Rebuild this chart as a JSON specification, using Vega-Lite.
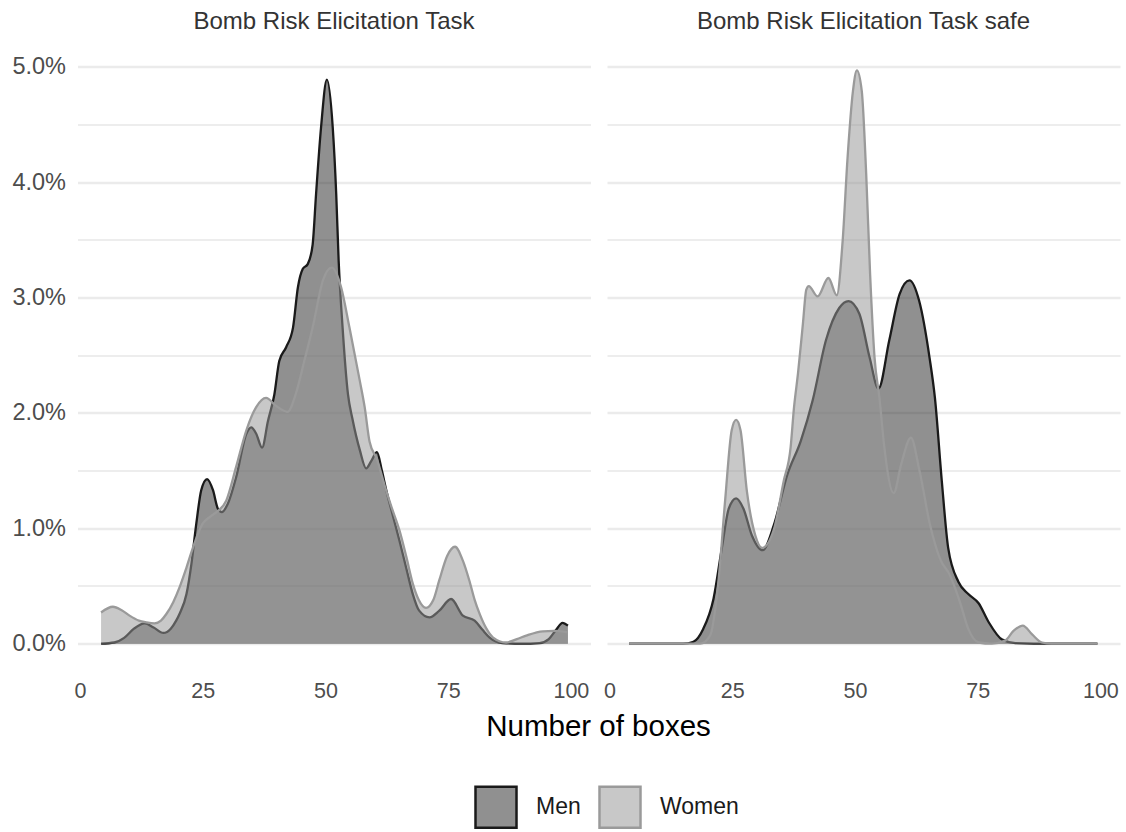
{
  "$schema": "https://vega.github.io/schema/vega-lite/v6.json",
  "background": "white",
  "padding": {"left": 11.5, "top": 9.5, "right": 3, "bottom": 2},
  "data": {"values": [
    {"task":"Bomb Risk Elicitation Task","gender":"Men","boxes":4.3,"density":0},
    {"task":"Bomb Risk Elicitation Task","gender":"Men","boxes":7,"density":0.0001},
    {"task":"Bomb Risk Elicitation Task","gender":"Men","boxes":9,"density":0.0005},
    {"task":"Bomb Risk Elicitation Task","gender":"Men","boxes":11,"density":0.0013},
    {"task":"Bomb Risk Elicitation Task","gender":"Men","boxes":13.2,"density":0.00176},
    {"task":"Bomb Risk Elicitation Task","gender":"Men","boxes":15,"density":0.0014},
    {"task":"Bomb Risk Elicitation Task","gender":"Men","boxes":17,"density":0.00093},
    {"task":"Bomb Risk Elicitation Task","gender":"Men","boxes":18.5,"density":0.0013},
    {"task":"Bomb Risk Elicitation Task","gender":"Men","boxes":19.6,"density":0.002},
    {"task":"Bomb Risk Elicitation Task","gender":"Men","boxes":20.3,"density":0.0026},
    {"task":"Bomb Risk Elicitation Task","gender":"Men","boxes":21.7,"density":0.0043},
    {"task":"Bomb Risk Elicitation Task","gender":"Men","boxes":22.7,"density":0.0069},
    {"task":"Bomb Risk Elicitation Task","gender":"Men","boxes":23.7,"density":0.0104},
    {"task":"Bomb Risk Elicitation Task","gender":"Men","boxes":24.7,"density":0.0133},
    {"task":"Bomb Risk Elicitation Task","gender":"Men","boxes":25.9,"density":0.01427},
    {"task":"Bomb Risk Elicitation Task","gender":"Men","boxes":27.1,"density":0.0133},
    {"task":"Bomb Risk Elicitation Task","gender":"Men","boxes":28.1,"density":0.0117},
    {"task":"Bomb Risk Elicitation Task","gender":"Men","boxes":28.9,"density":0.0114},
    {"task":"Bomb Risk Elicitation Task","gender":"Men","boxes":30.1,"density":0.0121},
    {"task":"Bomb Risk Elicitation Task","gender":"Men","boxes":31.8,"density":0.0144},
    {"task":"Bomb Risk Elicitation Task","gender":"Men","boxes":33.9,"density":0.0182},
    {"task":"Bomb Risk Elicitation Task","gender":"Men","boxes":34.9,"density":0.01875},
    {"task":"Bomb Risk Elicitation Task","gender":"Men","boxes":35.9,"density":0.0182},
    {"task":"Bomb Risk Elicitation Task","gender":"Men","boxes":37.1,"density":0.017},
    {"task":"Bomb Risk Elicitation Task","gender":"Men","boxes":38.3,"density":0.0193},
    {"task":"Bomb Risk Elicitation Task","gender":"Men","boxes":39.6,"density":0.0216},
    {"task":"Bomb Risk Elicitation Task","gender":"Men","boxes":40.6,"density":0.0245},
    {"task":"Bomb Risk Elicitation Task","gender":"Men","boxes":42.0,"density":0.0257},
    {"task":"Bomb Risk Elicitation Task","gender":"Men","boxes":43.4,"density":0.0274},
    {"task":"Bomb Risk Elicitation Task","gender":"Men","boxes":44.4,"density":0.0309},
    {"task":"Bomb Risk Elicitation Task","gender":"Men","boxes":45.4,"density":0.0325},
    {"task":"Bomb Risk Elicitation Task","gender":"Men","boxes":46.4,"density":0.0329},
    {"task":"Bomb Risk Elicitation Task","gender":"Men","boxes":47.4,"density":0.0346},
    {"task":"Bomb Risk Elicitation Task","gender":"Men","boxes":48.1,"density":0.039},
    {"task":"Bomb Risk Elicitation Task","gender":"Men","boxes":49.1,"density":0.0447},
    {"task":"Bomb Risk Elicitation Task","gender":"Men","boxes":50.3,"density":0.0489},
    {"task":"Bomb Risk Elicitation Task","gender":"Men","boxes":51.5,"density":0.0447},
    {"task":"Bomb Risk Elicitation Task","gender":"Men","boxes":52.2,"density":0.039},
    {"task":"Bomb Risk Elicitation Task","gender":"Men","boxes":52.7,"density":0.0332},
    {"task":"Bomb Risk Elicitation Task","gender":"Men","boxes":53.5,"density":0.0274},
    {"task":"Bomb Risk Elicitation Task","gender":"Men","boxes":54.6,"density":0.0216},
    {"task":"Bomb Risk Elicitation Task","gender":"Men","boxes":55.5,"density":0.0195},
    {"task":"Bomb Risk Elicitation Task","gender":"Men","boxes":57,"density":0.0168},
    {"task":"Bomb Risk Elicitation Task","gender":"Men","boxes":58.3,"density":0.0152},
    {"task":"Bomb Risk Elicitation Task","gender":"Men","boxes":59.3,"density":0.0158},
    {"task":"Bomb Risk Elicitation Task","gender":"Men","boxes":60.5,"density":0.0166},
    {"task":"Bomb Risk Elicitation Task","gender":"Men","boxes":61.5,"density":0.015},
    {"task":"Bomb Risk Elicitation Task","gender":"Men","boxes":62.4,"density":0.0133},
    {"task":"Bomb Risk Elicitation Task","gender":"Men","boxes":63.8,"density":0.011},
    {"task":"Bomb Risk Elicitation Task","gender":"Men","boxes":65.1,"density":0.0089},
    {"task":"Bomb Risk Elicitation Task","gender":"Men","boxes":66.5,"density":0.0065},
    {"task":"Bomb Risk Elicitation Task","gender":"Men","boxes":67.8,"density":0.0043},
    {"task":"Bomb Risk Elicitation Task","gender":"Men","boxes":69.1,"density":0.00286},
    {"task":"Bomb Risk Elicitation Task","gender":"Men","boxes":71.2,"density":0.00228},
    {"task":"Bomb Risk Elicitation Task","gender":"Men","boxes":73.2,"density":0.00286},
    {"task":"Bomb Risk Elicitation Task","gender":"Men","boxes":75.6,"density":0.00387},
    {"task":"Bomb Risk Elicitation Task","gender":"Men","boxes":78,"density":0.00243},
    {"task":"Bomb Risk Elicitation Task","gender":"Men","boxes":80.4,"density":0.002},
    {"task":"Bomb Risk Elicitation Task","gender":"Men","boxes":82,"density":0.0012},
    {"task":"Bomb Risk Elicitation Task","gender":"Men","boxes":83.4,"density":0.00055},
    {"task":"Bomb Risk Elicitation Task","gender":"Men","boxes":86.1,"density":0.00005},
    {"task":"Bomb Risk Elicitation Task","gender":"Men","boxes":90,"density":0},
    {"task":"Bomb Risk Elicitation Task","gender":"Men","boxes":93.6,"density":0.00005},
    {"task":"Bomb Risk Elicitation Task","gender":"Men","boxes":95.5,"density":0.0004},
    {"task":"Bomb Risk Elicitation Task","gender":"Men","boxes":97,"density":0.0012},
    {"task":"Bomb Risk Elicitation Task","gender":"Men","boxes":98.3,"density":0.0018},
    {"task":"Bomb Risk Elicitation Task","gender":"Men","boxes":99.4,"density":0.00156},
    {"task":"Bomb Risk Elicitation Task","gender":"Women","boxes":4.3,"density":0.0027},
    {"task":"Bomb Risk Elicitation Task","gender":"Women","boxes":6.7,"density":0.0032},
    {"task":"Bomb Risk Elicitation Task","gender":"Women","boxes":8.5,"density":0.0029},
    {"task":"Bomb Risk Elicitation Task","gender":"Women","boxes":10.1,"density":0.00243},
    {"task":"Bomb Risk Elicitation Task","gender":"Women","boxes":12,"density":0.002},
    {"task":"Bomb Risk Elicitation Task","gender":"Women","boxes":13.5,"density":0.00185},
    {"task":"Bomb Risk Elicitation Task","gender":"Women","boxes":15.2,"density":0.00176},
    {"task":"Bomb Risk Elicitation Task","gender":"Women","boxes":16.5,"density":0.002},
    {"task":"Bomb Risk Elicitation Task","gender":"Women","boxes":17.6,"density":0.00257},
    {"task":"Bomb Risk Elicitation Task","gender":"Women","boxes":19,"density":0.0036},
    {"task":"Bomb Risk Elicitation Task","gender":"Women","boxes":20.3,"density":0.0049},
    {"task":"Bomb Risk Elicitation Task","gender":"Women","boxes":21.7,"density":0.0066},
    {"task":"Bomb Risk Elicitation Task","gender":"Women","boxes":23,"density":0.0083},
    {"task":"Bomb Risk Elicitation Task","gender":"Women","boxes":25,"density":0.0104},
    {"task":"Bomb Risk Elicitation Task","gender":"Women","boxes":26.5,"density":0.011},
    {"task":"Bomb Risk Elicitation Task","gender":"Women","boxes":27.8,"density":0.0114},
    {"task":"Bomb Risk Elicitation Task","gender":"Women","boxes":29.8,"density":0.0124},
    {"task":"Bomb Risk Elicitation Task","gender":"Women","boxes":31.8,"density":0.0153},
    {"task":"Bomb Risk Elicitation Task","gender":"Women","boxes":33.9,"density":0.0185},
    {"task":"Bomb Risk Elicitation Task","gender":"Women","boxes":35.9,"density":0.0205},
    {"task":"Bomb Risk Elicitation Task","gender":"Women","boxes":37.9,"density":0.0213},
    {"task":"Bomb Risk Elicitation Task","gender":"Women","boxes":40,"density":0.0206},
    {"task":"Bomb Risk Elicitation Task","gender":"Women","boxes":42.3,"density":0.0201},
    {"task":"Bomb Risk Elicitation Task","gender":"Women","boxes":44,"density":0.0217},
    {"task":"Bomb Risk Elicitation Task","gender":"Women","boxes":45.7,"density":0.0245},
    {"task":"Bomb Risk Elicitation Task","gender":"Women","boxes":47.4,"density":0.0274},
    {"task":"Bomb Risk Elicitation Task","gender":"Women","boxes":49.5,"density":0.0315},
    {"task":"Bomb Risk Elicitation Task","gender":"Women","boxes":51.3,"density":0.0326},
    {"task":"Bomb Risk Elicitation Task","gender":"Women","boxes":53.2,"density":0.0309},
    {"task":"Bomb Risk Elicitation Task","gender":"Women","boxes":54.9,"density":0.0274},
    {"task":"Bomb Risk Elicitation Task","gender":"Women","boxes":57,"density":0.0228},
    {"task":"Bomb Risk Elicitation Task","gender":"Women","boxes":58,"density":0.0205},
    {"task":"Bomb Risk Elicitation Task","gender":"Women","boxes":59,"density":0.0175},
    {"task":"Bomb Risk Elicitation Task","gender":"Women","boxes":60.5,"density":0.016},
    {"task":"Bomb Risk Elicitation Task","gender":"Women","boxes":62,"density":0.0138},
    {"task":"Bomb Risk Elicitation Task","gender":"Women","boxes":63.5,"density":0.0118},
    {"task":"Bomb Risk Elicitation Task","gender":"Women","boxes":65.1,"density":0.0098},
    {"task":"Bomb Risk Elicitation Task","gender":"Women","boxes":66.5,"density":0.0075},
    {"task":"Bomb Risk Elicitation Task","gender":"Women","boxes":67.8,"density":0.0052},
    {"task":"Bomb Risk Elicitation Task","gender":"Women","boxes":69,"density":0.0038},
    {"task":"Bomb Risk Elicitation Task","gender":"Women","boxes":70.5,"density":0.0031},
    {"task":"Bomb Risk Elicitation Task","gender":"Women","boxes":72,"density":0.0038},
    {"task":"Bomb Risk Elicitation Task","gender":"Women","boxes":73.2,"density":0.0055},
    {"task":"Bomb Risk Elicitation Task","gender":"Women","boxes":74.8,"density":0.0076},
    {"task":"Bomb Risk Elicitation Task","gender":"Women","boxes":76.4,"density":0.0084},
    {"task":"Bomb Risk Elicitation Task","gender":"Women","boxes":78,"density":0.0072},
    {"task":"Bomb Risk Elicitation Task","gender":"Women","boxes":79.3,"density":0.0055},
    {"task":"Bomb Risk Elicitation Task","gender":"Women","boxes":80.4,"density":0.0038},
    {"task":"Bomb Risk Elicitation Task","gender":"Women","boxes":81.4,"density":0.0026},
    {"task":"Bomb Risk Elicitation Task","gender":"Women","boxes":82.8,"density":0.0013},
    {"task":"Bomb Risk Elicitation Task","gender":"Women","boxes":84.1,"density":0.00055},
    {"task":"Bomb Risk Elicitation Task","gender":"Women","boxes":86.8,"density":0.0001},
    {"task":"Bomb Risk Elicitation Task","gender":"Women","boxes":89,"density":0.0004},
    {"task":"Bomb Risk Elicitation Task","gender":"Women","boxes":90.9,"density":0.0007},
    {"task":"Bomb Risk Elicitation Task","gender":"Women","boxes":94.3,"density":0.00107},
    {"task":"Bomb Risk Elicitation Task","gender":"Women","boxes":96.5,"density":0.0011},
    {"task":"Bomb Risk Elicitation Task","gender":"Women","boxes":99.4,"density":0.00098},
    {"task":"Bomb Risk Elicitation Task safe","gender":"Men","boxes":4,"density":0},
    {"task":"Bomb Risk Elicitation Task safe","gender":"Men","boxes":15,"density":0},
    {"task":"Bomb Risk Elicitation Task safe","gender":"Men","boxes":17.1,"density":0.00017},
    {"task":"Bomb Risk Elicitation Task safe","gender":"Men","boxes":19.1,"density":0.00128},
    {"task":"Bomb Risk Elicitation Task safe","gender":"Men","boxes":21.2,"density":0.0039},
    {"task":"Bomb Risk Elicitation Task safe","gender":"Men","boxes":22.9,"density":0.0083},
    {"task":"Bomb Risk Elicitation Task safe","gender":"Men","boxes":24.3,"density":0.0117},
    {"task":"Bomb Risk Elicitation Task safe","gender":"Men","boxes":25.8,"density":0.0126},
    {"task":"Bomb Risk Elicitation Task safe","gender":"Men","boxes":27.3,"density":0.0117},
    {"task":"Bomb Risk Elicitation Task safe","gender":"Men","boxes":29,"density":0.0094},
    {"task":"Bomb Risk Elicitation Task safe","gender":"Men","boxes":31.2,"density":0.0081},
    {"task":"Bomb Risk Elicitation Task safe","gender":"Men","boxes":33.5,"density":0.0103},
    {"task":"Bomb Risk Elicitation Task safe","gender":"Men","boxes":36.2,"density":0.0146},
    {"task":"Bomb Risk Elicitation Task safe","gender":"Men","boxes":39,"density":0.0176},
    {"task":"Bomb Risk Elicitation Task safe","gender":"Men","boxes":41.4,"density":0.0211},
    {"task":"Bomb Risk Elicitation Task safe","gender":"Men","boxes":44.1,"density":0.0263},
    {"task":"Bomb Risk Elicitation Task safe","gender":"Men","boxes":46.8,"density":0.0291},
    {"task":"Bomb Risk Elicitation Task safe","gender":"Men","boxes":48.7,"density":0.0297},
    {"task":"Bomb Risk Elicitation Task safe","gender":"Men","boxes":50.9,"density":0.0286},
    {"task":"Bomb Risk Elicitation Task safe","gender":"Men","boxes":53,"density":0.0248},
    {"task":"Bomb Risk Elicitation Task safe","gender":"Men","boxes":54.8,"density":0.0221},
    {"task":"Bomb Risk Elicitation Task safe","gender":"Men","boxes":57,"density":0.0263},
    {"task":"Bomb Risk Elicitation Task safe","gender":"Men","boxes":59.1,"density":0.0303},
    {"task":"Bomb Risk Elicitation Task safe","gender":"Men","boxes":61.1,"density":0.0315},
    {"task":"Bomb Risk Elicitation Task safe","gender":"Men","boxes":63.1,"density":0.0297},
    {"task":"Bomb Risk Elicitation Task safe","gender":"Men","boxes":65.2,"density":0.0248},
    {"task":"Bomb Risk Elicitation Task safe","gender":"Men","boxes":66.3,"density":0.0213},
    {"task":"Bomb Risk Elicitation Task safe","gender":"Men","boxes":67.7,"density":0.0141},
    {"task":"Bomb Risk Elicitation Task safe","gender":"Men","boxes":69,"density":0.0083},
    {"task":"Bomb Risk Elicitation Task safe","gender":"Men","boxes":71.1,"density":0.00535},
    {"task":"Bomb Risk Elicitation Task safe","gender":"Men","boxes":73.1,"density":0.0043},
    {"task":"Bomb Risk Elicitation Task safe","gender":"Men","boxes":75.2,"density":0.0035},
    {"task":"Bomb Risk Elicitation Task safe","gender":"Men","boxes":77.2,"density":0.0019},
    {"task":"Bomb Risk Elicitation Task safe","gender":"Men","boxes":80,"density":0.00035},
    {"task":"Bomb Risk Elicitation Task safe","gender":"Men","boxes":82.7,"density":0.00005},
    {"task":"Bomb Risk Elicitation Task safe","gender":"Men","boxes":90,"density":0},
    {"task":"Bomb Risk Elicitation Task safe","gender":"Men","boxes":99.4,"density":0},
    {"task":"Bomb Risk Elicitation Task safe","gender":"Women","boxes":4,"density":0},
    {"task":"Bomb Risk Elicitation Task safe","gender":"Women","boxes":18.5,"density":0},
    {"task":"Bomb Risk Elicitation Task safe","gender":"Women","boxes":20.5,"density":0.0007},
    {"task":"Bomb Risk Elicitation Task safe","gender":"Women","boxes":22.2,"density":0.0054},
    {"task":"Bomb Risk Elicitation Task safe","gender":"Women","boxes":23.6,"density":0.0126},
    {"task":"Bomb Risk Elicitation Task safe","gender":"Women","boxes":24.9,"density":0.0185},
    {"task":"Bomb Risk Elicitation Task safe","gender":"Women","boxes":25.8,"density":0.0194},
    {"task":"Bomb Risk Elicitation Task safe","gender":"Women","boxes":26.7,"density":0.0185},
    {"task":"Bomb Risk Elicitation Task safe","gender":"Women","boxes":28,"density":0.0132},
    {"task":"Bomb Risk Elicitation Task safe","gender":"Women","boxes":29.7,"density":0.0094},
    {"task":"Bomb Risk Elicitation Task safe","gender":"Women","boxes":31.1,"density":0.0083},
    {"task":"Bomb Risk Elicitation Task safe","gender":"Women","boxes":33.5,"density":0.0099},
    {"task":"Bomb Risk Elicitation Task safe","gender":"Women","boxes":35.5,"density":0.0141},
    {"task":"Bomb Risk Elicitation Task safe","gender":"Women","boxes":36.9,"density":0.017},
    {"task":"Bomb Risk Elicitation Task safe","gender":"Women","boxes":37.6,"density":0.0205},
    {"task":"Bomb Risk Elicitation Task safe","gender":"Women","boxes":38.4,"density":0.0234},
    {"task":"Bomb Risk Elicitation Task safe","gender":"Women","boxes":39.4,"density":0.0277},
    {"task":"Bomb Risk Elicitation Task safe","gender":"Women","boxes":40.1,"density":0.0307},
    {"task":"Bomb Risk Elicitation Task safe","gender":"Women","boxes":40.6,"density":0.031},
    {"task":"Bomb Risk Elicitation Task safe","gender":"Women","boxes":42.4,"density":0.0301},
    {"task":"Bomb Risk Elicitation Task safe","gender":"Women","boxes":44.6,"density":0.0317},
    {"task":"Bomb Risk Elicitation Task safe","gender":"Women","boxes":46.3,"density":0.0302},
    {"task":"Bomb Risk Elicitation Task safe","gender":"Women","boxes":47.5,"density":0.0349},
    {"task":"Bomb Risk Elicitation Task safe","gender":"Women","boxes":48.5,"density":0.0421},
    {"task":"Bomb Risk Elicitation Task safe","gender":"Women","boxes":49.6,"density":0.0479},
    {"task":"Bomb Risk Elicitation Task safe","gender":"Women","boxes":50.4,"density":0.0497},
    {"task":"Bomb Risk Elicitation Task safe","gender":"Women","boxes":51.4,"density":0.0479},
    {"task":"Bomb Risk Elicitation Task safe","gender":"Women","boxes":52.3,"density":0.0407},
    {"task":"Bomb Risk Elicitation Task safe","gender":"Women","boxes":53.1,"density":0.032},
    {"task":"Bomb Risk Elicitation Task safe","gender":"Women","boxes":54,"density":0.0248},
    {"task":"Bomb Risk Elicitation Task safe","gender":"Women","boxes":55,"density":0.0213},
    {"task":"Bomb Risk Elicitation Task safe","gender":"Women","boxes":56,"density":0.017},
    {"task":"Bomb Risk Elicitation Task safe","gender":"Women","boxes":57.9,"density":0.01305},
    {"task":"Bomb Risk Elicitation Task safe","gender":"Women","boxes":59.4,"density":0.0155},
    {"task":"Bomb Risk Elicitation Task safe","gender":"Women","boxes":61.4,"density":0.01785},
    {"task":"Bomb Risk Elicitation Task safe","gender":"Women","boxes":63.2,"density":0.0149},
    {"task":"Bomb Risk Elicitation Task safe","gender":"Women","boxes":65.3,"density":0.0103},
    {"task":"Bomb Risk Elicitation Task safe","gender":"Women","boxes":67.3,"density":0.0074},
    {"task":"Bomb Risk Elicitation Task safe","gender":"Women","boxes":69.4,"density":0.0059},
    {"task":"Bomb Risk Elicitation Task safe","gender":"Women","boxes":71.4,"density":0.0036},
    {"task":"Bomb Risk Elicitation Task safe","gender":"Women","boxes":73.1,"density":0.00128},
    {"task":"Bomb Risk Elicitation Task safe","gender":"Women","boxes":75.2,"density":0.0001},
    {"task":"Bomb Risk Elicitation Task safe","gender":"Women","boxes":77.9,"density":0},
    {"task":"Bomb Risk Elicitation Task safe","gender":"Women","boxes":80.6,"density":0.00026},
    {"task":"Bomb Risk Elicitation Task safe","gender":"Women","boxes":82.3,"density":0.0011},
    {"task":"Bomb Risk Elicitation Task safe","gender":"Women","boxes":84.2,"density":0.00157},
    {"task":"Bomb Risk Elicitation Task safe","gender":"Women","boxes":86.1,"density":0.0008},
    {"task":"Bomb Risk Elicitation Task safe","gender":"Women","boxes":88.1,"density":0.0001},
    {"task":"Bomb Risk Elicitation Task safe","gender":"Women","boxes":90,"density":0},
    {"task":"Bomb Risk Elicitation Task safe","gender":"Women","boxes":99.4,"density":0}
  ]},
  "facet": {
    "column": {
      "field": "task", "type": "nominal",
      "header": {
        "title": "Number of boxes", "titleOrient": "bottom", "labelOrient": "top",
        "labelFontSize": 24, "labelColor": "#333333", "labelPadding": 8, "labelFont": "Liberation Sans",
        "titleFontSize": 29.5, "titleFontWeight": "normal", "titleColor": "#000000", "titlePadding": 0, "titleFont": "Liberation Sans"
      }
    }
  },
  "spacing": 16.5,
  "spec": {
    "width": 513,
    "height": 631,
    "encoding": {
      "x": {
        "field": "boxes", "type": "quantitative",
        "scale": {"domain": [-0.5, 104], "nice": false, "zero": false},
        "axis": {"values": [0, 25, 50, 75, 100], "title": null, "grid": false, "domain": false, "ticks": false,
                 "labelFontSize": 21.5, "labelColor": "#4d4d4d", "labelPadding": 8, "labelFlush": false, "labelOverlap": false}
      },
      "y": {
        "field": "density", "type": "quantitative",
        "scale": {"domain": [-0.0025, 0.0522], "nice": false, "zero": false},
        "axis": {
          "values": [0, 0.005, 0.01, 0.015, 0.02, 0.025, 0.03, 0.035, 0.04, 0.045, 0.05],
          "title": null, "domain": false, "ticks": false, "labelFlush": false, "labelOverlap": false,
          "labelFontSize": 23.5, "labelColor": "#4d4d4d", "labelPadding": 12,
          "labelExpr": "round(datum.value * 1000) % 10 == 5 ? '' : format(datum.value, '.1%')",
          "gridColor": {"condition": {"test": "round(datum.value * 1000) % 10 == 5", "value": "#dcdcdc"}, "value": "#ebebeb"},
          "gridWidth": {"condition": {"test": "round(datum.value * 1000) % 10 == 5", "value": 1.2}, "value": 2.4}
        }
      }
    },
    "layer": [
      {
        "transform": [{"filter": "datum.gender === 'Men'"}],
        "mark": {"type": "area", "interpolate": "monotone", "fillOpacity": 0.52},
        "encoding": {
          "y2": {"datum": 0},
          "fill": {"field": "gender", "type": "nominal",
                   "scale": {"domain": ["Men", "Women"], "range": ["#2a2a2a", "#959595"]},
                   "legend": {"title": null, "symbolType": "square", "orient": "none", "legendX": 396.5, "legendY": 743.5,
                              "encode": {"symbols": {"update": {"fillOpacity": {"value": 0.52}, "strokeWidth": {"value": 2.5}, "strokeOpacity": {"value": 1}}}}}}
        }
      },
      {
        "transform": [{"filter": "datum.gender === 'Men'"}],
        "mark": {"type": "line", "interpolate": "monotone", "strokeWidth": 2.3},
        "encoding": {
          "stroke": {"field": "gender", "type": "nominal",
                     "scale": {"domain": ["Men", "Women"], "range": ["#1a1a1a", "#9a9a9a"]},
                     "legend": {"title": null, "symbolType": "square", "orient": "none", "legendX": 396.5, "legendY": 743.5,
                                "encode": {"symbols": {"update": {"fillOpacity": {"value": 0.52}, "strokeWidth": {"value": 2.5}, "strokeOpacity": {"value": 1}}}}}}
        }
      },
      {
        "transform": [{"filter": "datum.gender === 'Women'"}],
        "mark": {"type": "area", "interpolate": "monotone", "fillOpacity": 0.52},
        "encoding": {
          "y2": {"datum": 0},
          "fill": {"field": "gender", "type": "nominal"}
        }
      },
      {
        "transform": [{"filter": "datum.gender === 'Women'"}],
        "mark": {"type": "line", "interpolate": "monotone", "strokeWidth": 2.3},
        "encoding": {
          "stroke": {"field": "gender", "type": "nominal"}
        }
      }
    ]
  },
  "config": {
    "font": "Liberation Sans",
    "view": {"stroke": null},
    "legend": {
      "direction": "horizontal",
      "labelFontSize": 23, "labelColor": "#1a1a1a", "labelFont": "Liberation Sans",
      "symbolSize": 1681, "symbolStrokeWidth": 2.5, "labelOffset": 18, "columnPadding": 13
    }
  }
}
